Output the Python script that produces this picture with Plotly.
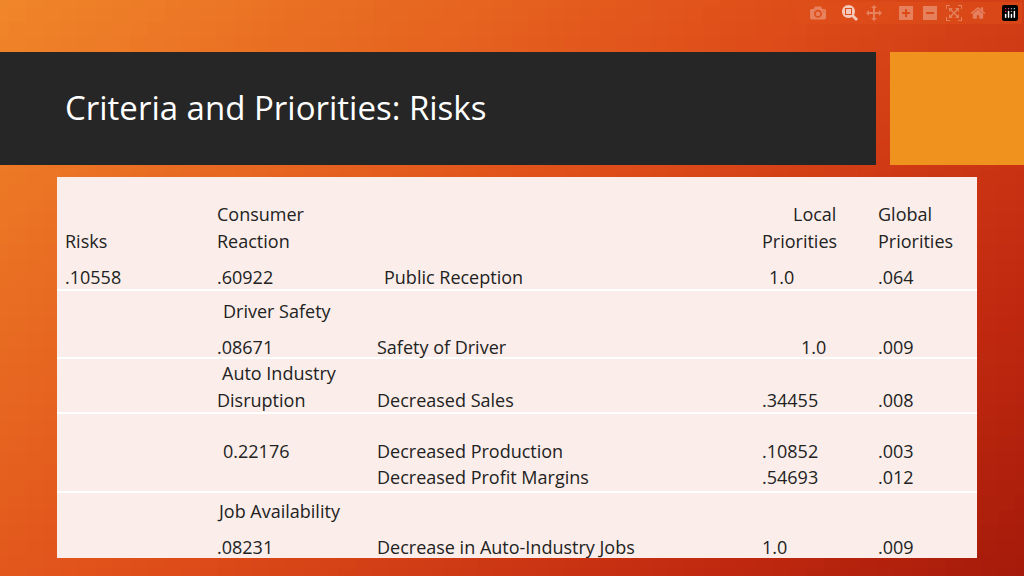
import numpy as np
import plotly.graph_objects as go

title = "Criteria and Priorities: Risks"

# table cell texts: (text, x, y)
risks_col = [("Risks", 63, 241), (".10558", 63, 277)]
crit_col = [("Consumer", 215, 214), ("Reaction", 215, 241), (".60922", 215, 277),
            ("Driver Safety", 221, 311), (".08671", 215, 347),
            ("Auto Industry", 220, 373), ("Disruption", 215, 400),
            ("0.22176", 221, 451), ("Job Availability", 215, 511), (".08231", 215, 547)]
sub_col = [("Public Reception", 382, 277), ("Safety of Driver", 375, 347),
           ("Decreased Sales", 375, 400), ("Decreased Production", 375, 451),
           ("Decreased Profit Margins", 375, 477), ("Decrease in Auto-Industry Jobs", 375, 547)]
local_col = [("Local", 791, 214), ("Priorities", 760, 241), ("1.0", 767, 277),
             ("1.0", 799, 347), (".34455", 760, 400), (".10852", 760, 451),
             (".54693", 760, 477), ("1.0", 760, 547)]
global_col = [("Global", 876, 214), ("Priorities", 876, 241), (".064", 876, 277),
              (".009", 876, 347), (".008", 876, 400), (".003", 876, 451),
              (".012", 876, 477), (".009", 876, 547)]
row_lines = [290, 358, 413, 492]

fig = go.Figure()

# gradient background
gx = np.linspace(0, 1024, 60)
gy = np.linspace(0, 576, 40)
z = gx[None, :] / 1024 * 0.8 + gy[:, None] / 576 * 0.5
fig.add_trace(go.Heatmap(x=gx, y=gy, z=z, showscale=False, hoverinfo="skip",
                         colorscale=[[0, "#f0862a"], [0.45, "#e0501a"], [0.8, "#c22a10"], [1, "#a51a0a"]]))

fig.add_shape(type="rect", x0=0, x1=876, y0=52, y1=165, fillcolor="#262626", line_width=0)
fig.add_shape(type="rect", x0=890, x1=1024, y0=52, y1=165, fillcolor="#f0921e", line_width=0)
fig.add_shape(type="rect", x0=57, x1=977, y0=177, y1=558, fillcolor="#fbeeea", line_width=0)
for y in row_lines:
    fig.add_shape(type="line", x0=57, x1=977, y0=y, y1=y, line=dict(color="white", width=2))

fig.add_annotation(x=63, y=107, text=title, showarrow=False, xanchor="left",
                   font=dict(size=33, color="white", family="Open Sans"))

for col in [risks_col, crit_col, sub_col, local_col, global_col]:
    for t, x, y in col:
        fig.add_annotation(x=x, y=y, text=t, showarrow=False, xanchor="left",
                           font=dict(size=18, color="#222222", family="Open Sans"))

fig.update_xaxes(range=[0, 1024], visible=False)
fig.update_yaxes(range=[576, 0], visible=False)
fig.update_layout(width=1024, height=576, margin=dict(l=0, r=0, t=0, b=0),
                  plot_bgcolor="#e0501a", paper_bgcolor="#e0501a", showlegend=False)
fig.write_html("out.html", post_script="document.body.style.margin='0';document.body.style.overflow='hidden';")
